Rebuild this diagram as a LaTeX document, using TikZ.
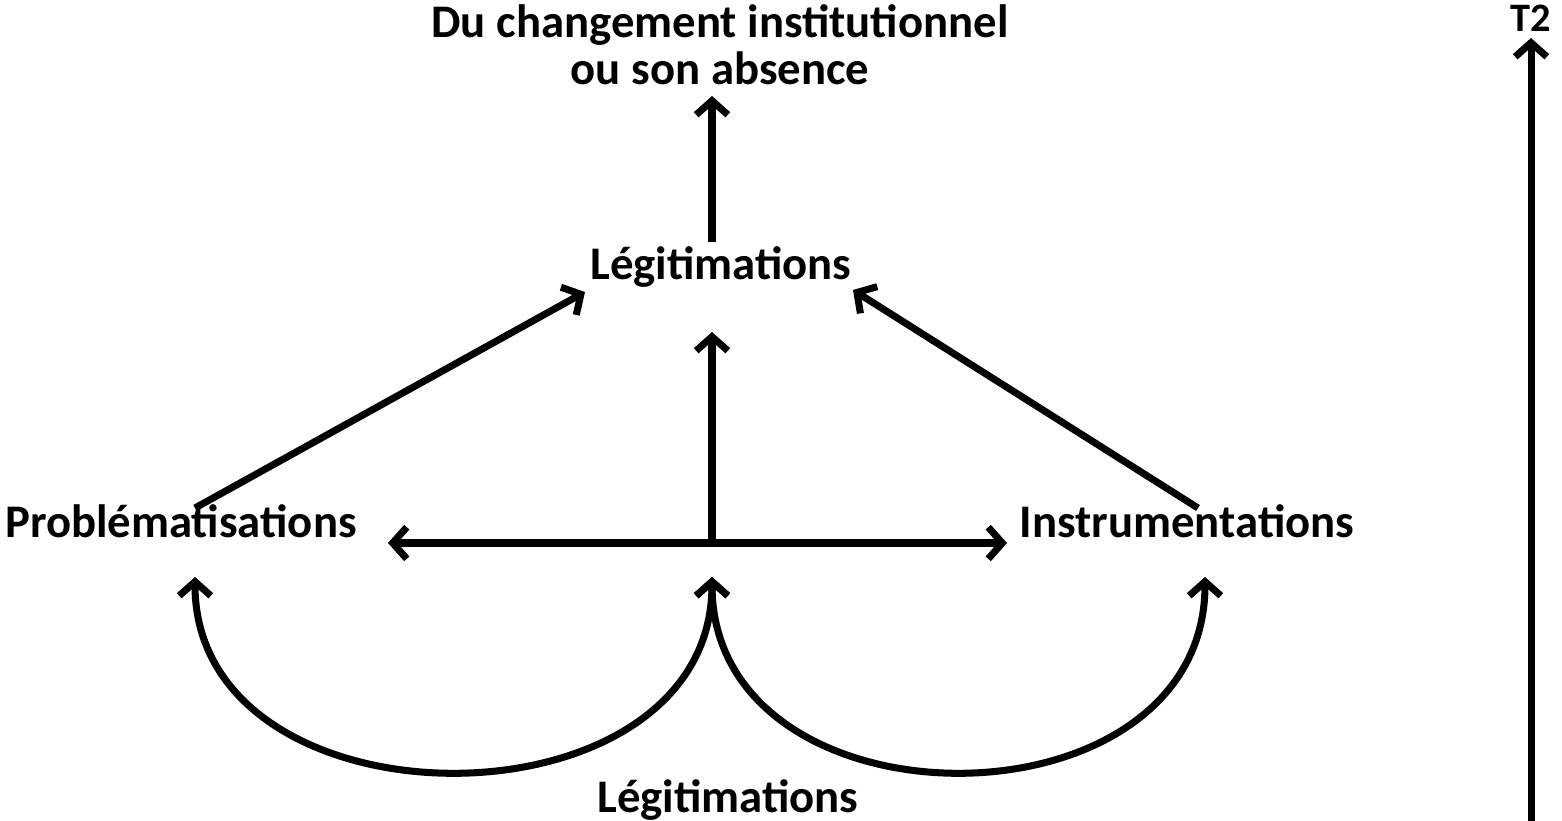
\documentclass[tikz,border=0pt]{standalone}
\usepackage{fontspec}
\setmainfont{Carlito}
\usepackage{tikz}
\usetikzlibrary{arrows.meta}
\usetikzlibrary{positioning}

\tikzset{
  lbl/.style={font=\fontsize{26.6}{27}\selectfont\bfseries, inner sep=0pt, anchor=base},
  fl/.style={line width=4pt, -{Straight Barb[length=8pt,width=18pt]}},
  fll/.style={line width=4pt, {Straight Barb[length=8pt,width=18pt]}-{Straight Barb[length=8pt,width=18pt]}},
}

\begin{document}
\begin{tikzpicture}[x=0.02cm, y=-0.02cm]

\useasboundingbox (0,0) rectangle (1562,821);

% texts
\node[lbl, align=center] (chg) at (720,85) {Du changement institutionnel\\ou son absence};
\node[lbl] (leg) at (721,279) {Légitimations};
\node[lbl] (prob) at (181,537) {Problématisations};
\node[lbl] (instr) at (1187,537) {Instrumentations};
\node[lbl] (legb) at (728,812) {Légitimations};
\node[lbl, font=\fontsize{23}{24}\selectfont\bfseries] (t2) at (1531,32) {T2};

% ends of connectors
\coordinate (chgs) at (712,96);
\coordinate (legn) at (712,242);
\coordinate (legw) at (585,292);
\coordinate (lege) at (853,290);
\coordinate (legs) at (712,332);
\coordinate (probn) at (195,508);
\coordinate (instrn) at (1198,508);
\coordinate (probe) at (388,543);
\coordinate (instrw) at (1007,543);
\coordinate (hub) at (712,543);
\coordinate (probs) at (195,577);
\coordinate (hubs) at (712,577);
\coordinate (instrs) at (1205,577);
\coordinate (t2s) at (1531,38);
\coordinate (t1) at (1531,821);

\draw[fl] (legn)--(chgs);
\draw[fl] (probn)--(legw);
\draw[fl] (instrn)--(lege);
\draw[fl] (hub)--(legs);
\draw[fll] (probe)--(instrw);
\draw[fll] (probs) .. controls (195,836) and (712,836) .. (hubs);
\draw[fll] (hubs) .. controls (712,836) and (1205,836) .. (instrs);
\draw[fl] (t1)--(t2s);

\end{tikzpicture}
\end{document}
